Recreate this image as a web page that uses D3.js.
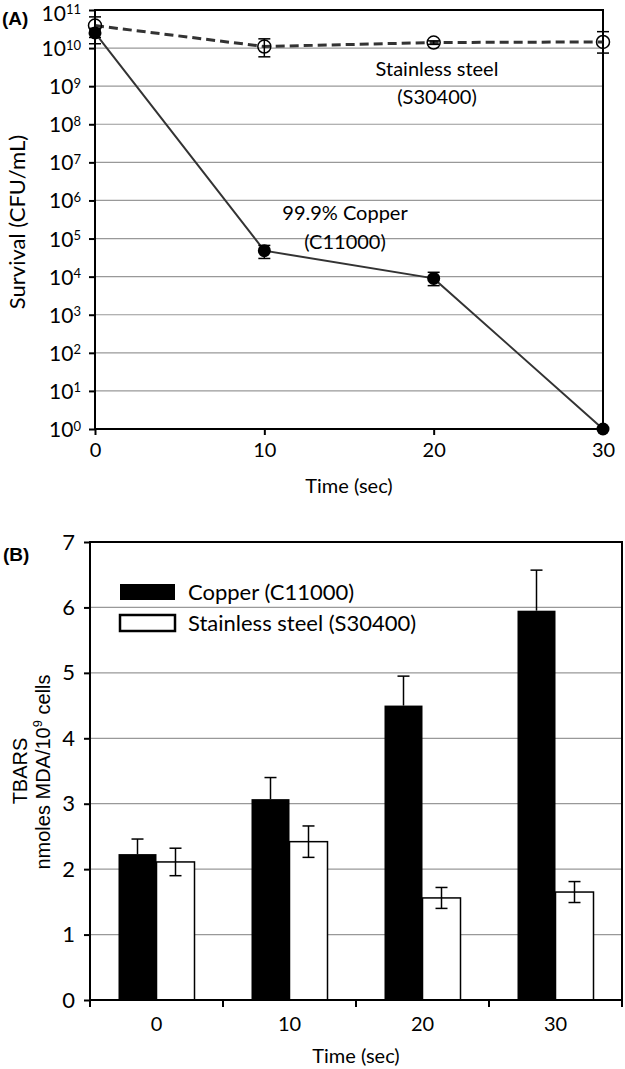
<!DOCTYPE html>
<html><head><meta charset="utf-8">
<script src="https://cdn.jsdelivr.net/npm/d3@7"></script>
<style>
body{margin:0;background:#fff;}
svg{display:block;font-family:Lato,"Open Sans",sans-serif;}
</style></head>
<body><svg id="c" width="625" height="1069"></svg>
<script>
// ---------- Panel A data ----------
const times = [0, 10, 20, 30];
const copperSurvival = [2.5e10, 4.8e4, 9.0e3, 1];
const copperLow = [1.9e10, 3.0e4, 5.8e3, 1];
const copperHigh = [3.3e10, 6.6e4, 1.3e4, 1];
const steelSurvival = [3.9e10, 1.1e10, 1.4e10, 1.45e10];
const steelLow = [1.3e10, 5.9e9, 1.25e10, 7.4e9];
const steelHigh = [6.6e10, 1.75e10, 1.55e10, 2.7e10];
const logTicks = [0,1,2,3,4,5,6,7,8,9,10,11];
const timeTicks = [0, 10, 20, 30];

// ---------- Panel B data ----------
const groups = ["0", "10", "20", "30"];
const copperTbars = [2.23, 3.07, 4.50, 5.95];
const copperErr = [0.23, 0.33, 0.45, 0.62];
const steelTbars = [2.11, 2.42, 1.56, 1.65];
const steelErr = [0.21, 0.24, 0.16, 0.16];
const barTicks = [0,1,2,3,4,5,6,7];

const svg = d3.select("#c");
const FS = 20;

// ================= Panel A =================
const xA = d3.scaleLinear().domain([0, 30]).range([95, 603]);
const yA = d3.scaleLog().domain([1, 1e11]).range([429, 10]);
const gA = svg.append("g");

gA.selectAll("line.grid").data(logTicks.slice(1, -1)).join("line")
  .attr("x1", xA(0)).attr("x2", xA(30))
  .attr("y1", d => yA(Math.pow(10, d))).attr("y2", d => yA(Math.pow(10, d)))
  .attr("stroke", "#999").attr("stroke-width", 1.2);

gA.append("rect").attr("x", xA(0)).attr("y", yA(1e11))
  .attr("width", xA(30) - xA(0)).attr("height", yA(1) - yA(1e11))
  .attr("fill", "none").attr("stroke", "#000").attr("stroke-width", 2);

const yAxA = gA.append("g").attr("transform", `translate(${xA(0)},0)`)
  .call(d3.axisLeft(yA).tickValues(logTicks.map(d => Math.pow(10, d))).tickFormat(() => "").tickSize(6).tickSizeOuter(0));
yAxA.select(".domain").remove();
yAxA.selectAll("line").attr("stroke-width", 2);
const ylab = gA.selectAll("text.ylab").data(logTicks).join("text")
  .attr("x", 81).attr("y", d => yA(Math.pow(10, d)) + (d === 11 ? 10.5 : 8))
  .attr("text-anchor", "end").attr("font-size", 21).attr("fill", "#000");
ylab.append("tspan").text("10");
ylab.append("tspan").attr("dy", -6.5).attr("font-size", 13).text(d => d);

const xAxA = gA.append("g").attr("transform", `translate(0,${yA(1)})`)
  .call(d3.axisBottom(xA).tickValues(timeTicks).tickSize(6).tickSizeOuter(0).tickPadding(8));
xAxA.select(".domain").remove();
xAxA.selectAll("line").attr("stroke-width", 2);
xAxA.selectAll("text").attr("font-size", 20).attr("font-family", "Lato");

gA.append("text").attr("x", (xA(0) + xA(30)) / 2).attr("y", 493)
  .attr("text-anchor", "middle").attr("font-size", 20).text("Time (sec)");
gA.append("text").attr("transform", "translate(25,222) rotate(-90)")
  .attr("text-anchor", "middle").attr("font-size", 22).text("Survival (CFU/mL)");
gA.append("text").attr("x", 2).attr("y", 25).attr("font-size", 19)
  .attr("font-weight", "bold").attr("font-family", "Liberation Sans, Arial").text("(A)");

const lineA = d3.line().x(d => xA(d[0])).y(d => yA(d[1]));
gA.append("path").datum(times.map((t, i) => [t, copperSurvival[i]]))
  .attr("d", lineA).attr("fill", "none").attr("stroke", "#333").attr("stroke-width", 2);
gA.append("path").datum(times.map((t, i) => [t, steelSurvival[i]]))
  .attr("d", lineA).attr("fill", "none").attr("stroke", "#333")
  .attr("stroke-width", 3).attr("stroke-dasharray", "9,5");

function errA(vals, lo, hi) {
  const g = gA.append("g").attr("stroke", "#000").attr("stroke-width", 1.5);
  times.forEach((t, i) => {
    const x = xA(t);
    g.append("line").attr("x1", x).attr("x2", x).attr("y1", yA(lo[i])).attr("y2", yA(hi[i]));
    g.append("line").attr("x1", x - 6).attr("x2", x + 6).attr("y1", yA(lo[i])).attr("y2", yA(lo[i]));
    g.append("line").attr("x1", x - 6).attr("x2", x + 6).attr("y1", yA(hi[i])).attr("y2", yA(hi[i]));
  });
}
errA(steelSurvival, steelLow, steelHigh);
errA(copperSurvival, copperLow, copperHigh);

gA.selectAll("circle.cu").data(times).join("circle")
  .attr("cx", d => xA(d)).attr("cy", (d, i) => yA(copperSurvival[i])).attr("r", 6.5)
  .attr("fill", "#000");
gA.selectAll("circle.ss").data(times).join("circle")
  .attr("cx", d => xA(d)).attr("cy", (d, i) => yA(steelSurvival[i])).attr("r", 6.5)
  .attr("fill", "none").attr("stroke", "#000").attr("stroke-width", 1.5);

gA.append("text").attr("x", 437).attr("y", 76).attr("text-anchor", "middle").attr("font-size", FS).text("Stainless steel");
gA.append("text").attr("x", 437).attr("y", 104).attr("text-anchor", "middle").attr("font-size", FS).text("(S30400)");
gA.append("text").attr("x", 345).attr("y", 220).attr("text-anchor", "middle").attr("font-size", FS).text("99.9% Copper");
gA.append("text").attr("x", 345).attr("y", 249).attr("text-anchor", "middle").attr("font-size", FS).text("(C11000)");

// ================= Panel B =================
const xB = d3.scaleBand().domain(groups).range([90, 622]).paddingInner(0).paddingOuter(0);
const inner = d3.scaleBand().domain(["cu", "ss"]).range([28.5, xB.bandwidth() - 28.5]);
const yB = d3.scaleLinear().domain([0, 7]).range([1000, 542]);
const gB = svg.append("g");

gB.selectAll("line.grid").data(barTicks.slice(1, -1)).join("line")
  .attr("x1", 90).attr("x2", 622).attr("y1", d => yB(d)).attr("y2", d => yB(d))
  .attr("stroke", "#999").attr("stroke-width", 1.2);

gB.selectAll("rect.cu").data(groups).join("rect")
  .attr("x", d => xB(d) + inner("cu")).attr("width", inner.bandwidth())
  .attr("y", (d, i) => yB(copperTbars[i])).attr("height", (d, i) => yB(0) - yB(copperTbars[i]))
  .attr("fill", "#000");
gB.selectAll("rect.ss").data(groups).join("rect")
  .attr("x", d => xB(d) + inner("ss")).attr("width", inner.bandwidth())
  .attr("y", (d, i) => yB(steelTbars[i])).attr("height", (d, i) => yB(0) - yB(steelTbars[i]))
  .attr("fill", "#fff").attr("stroke", "#000").attr("stroke-width", 1.5);

const eb = gB.append("g").attr("stroke", "#000").attr("stroke-width", 1.5);
groups.forEach((g, i) => {
  const xc = xB(g) + inner("cu") + inner.bandwidth() / 2;
  eb.append("line").attr("x1", xc).attr("x2", xc).attr("y1", yB(copperTbars[i])).attr("y2", yB(copperTbars[i] + copperErr[i]));
  eb.append("line").attr("x1", xc - 6).attr("x2", xc + 6).attr("y1", yB(copperTbars[i] + copperErr[i])).attr("y2", yB(copperTbars[i] + copperErr[i]));
  const xs = xB(g) + inner("ss") + inner.bandwidth() / 2;
  eb.append("line").attr("x1", xs).attr("x2", xs).attr("y1", yB(steelTbars[i] - steelErr[i])).attr("y2", yB(steelTbars[i] + steelErr[i]));
  eb.append("line").attr("x1", xs - 6).attr("x2", xs + 6).attr("y1", yB(steelTbars[i] + steelErr[i])).attr("y2", yB(steelTbars[i] + steelErr[i]));
  eb.append("line").attr("x1", xs - 6).attr("x2", xs + 6).attr("y1", yB(steelTbars[i] - steelErr[i])).attr("y2", yB(steelTbars[i] - steelErr[i]));
});

gB.append("rect").attr("x", 90).attr("y", yB(7)).attr("width", 532).attr("height", yB(0) - yB(7))
  .attr("fill", "none").attr("stroke", "#000").attr("stroke-width", 2);

const yAxB = gB.append("g").attr("transform", "translate(90,0)")
  .call(d3.axisLeft(yB).tickValues(barTicks).tickFormat(d3.format("d")).tickSize(6).tickSizeOuter(0).tickPadding(9));
yAxB.select(".domain").remove();
yAxB.selectAll("line").attr("stroke-width", 2);
yAxB.selectAll("text").attr("font-size", 22).attr("font-family", "Lato");

const bounds = groups.map(g => xB(g)).concat([xB.range()[1]]);
gB.selectAll("line.xt").data(bounds).join("line")
  .attr("x1", d => d).attr("x2", d => d).attr("y1", yB(0)).attr("y2", yB(0) + 7)
  .attr("stroke", "#000").attr("stroke-width", 2);
gB.selectAll("text.xl").data(groups).join("text")
  .attr("x", d => xB(d) + xB.bandwidth() / 2).attr("y", 1031)
  .attr("text-anchor", "middle").attr("font-size", 20).text(d => d);

gB.append("text").attr("x", 356).attr("y", 1063).attr("text-anchor", "middle").attr("font-size", 20).text("Time (sec)");
gB.append("text").attr("transform", "translate(27,771) rotate(-90)")
  .attr("text-anchor", "middle").attr("font-size", 20).attr("font-family", "Liberation Sans, Arial").text("TBARS");
const nl = gB.append("text").attr("transform", "translate(50,772) rotate(-90)")
  .attr("text-anchor", "middle").attr("font-size", 20).attr("font-family", "Liberation Sans, Arial");
nl.append("tspan").text("nmoles MDA/10");
nl.append("tspan").attr("dy", -8).attr("font-size", 13).text("9");
nl.append("tspan").attr("dy", 8).text(" cells");
gB.append("text").attr("x", 3).attr("y", 561).attr("font-size", 19)
  .attr("font-weight", "bold").attr("font-family", "Liberation Sans, Arial").text("(B)");

const legend = [["Copper (C11000)", "#000"], ["Stainless steel (S30400)", "#fff"]];
const lg = gB.selectAll("g.lg").data(legend).join("g")
  .attr("transform", (d, i) => `translate(120,${584 + i * 31})`);
lg.append("rect").attr("width", 55).attr("height", 16)
  .attr("fill", d => d[1]).attr("stroke", "#000").attr("stroke-width", d => d[1] === "#fff" ? 2.5 : 0);
lg.append("text").attr("x", 68).attr("y", 16).attr("font-size", 22).text(d => d[0]);
</script></body></html>
